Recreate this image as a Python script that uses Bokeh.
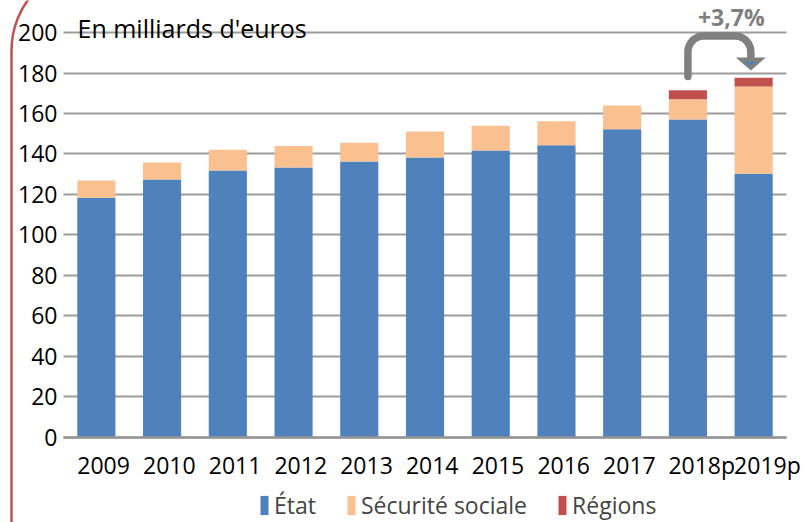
import numpy as np
from bokeh.plotting import figure
from bokeh.models import (ColumnDataSource, FixedTicker, Legend, LegendItem,
                          BoxAnnotation, Label)
from bokeh.embed import file_html
from bokeh.resources import INLINE

# ---- data (milliards d'euros) ----
years = ["2009", "2010", "2011", "2012", "2013", "2014", "2015", "2016",
         "2017", "2018p", "2019p"]
etat = [118.4, 127.4, 131.9, 133.3, 136.3, 138.3, 141.7, 144.3, 152.2, 157.0, 130.2]
securite_sociale = [8.5, 8.4, 10.2, 10.7, 9.2, 12.8, 12.2, 11.9, 11.8, 10.1, 43.1]
regions = [0, 0, 0, 0, 0, 0, 0, 0, 0, 4.4, 4.3]
y_ticks = [0, 20, 40, 60, 80, 100, 120, 140, 160, 180, 200]
series_labels = ["État", "Sécurité sociale", "Régions"]
unit_label = "En milliards d'euros"
growth_label = "+3,7%"

BLUE = "#4F81BD"
PEACH = "#FAC090"
RED = "#C0504D"
GRAY = "#808080"
FONT = "Open Sans"
BAR_W = 0.58
N = len(years)

x = list(range(N))
src = ColumnDataSource(dict(x=x, etat=etat, secu=securite_sociale, regions=regions))

# frame covers the whole canvas; axes are pinned with fixed_location
p = figure(width=805, height=522, output_backend="svg", toolbar_location=None,
           x_range=(-1.4585, N - 0.5 + 0.289), y_range=(-42.0, 215.81),
           min_border_left=0, min_border_right=0, min_border_top=0,
           min_border_bottom=0)
p.outline_line_color = None
p.background_fill_color = "white"
p.border_fill_color = "white"

rs = p.vbar_stack(["etat", "secu", "regions"], x="x", width=BAR_W, source=src,
                  color=[BLUE, PEACH, RED], line_color=None)

# y axis / grid
p.yaxis.fixed_location = -0.5
p.yaxis.ticker = FixedTicker(ticks=y_ticks)
p.yaxis.axis_line_color = None
p.yaxis.major_tick_line_color = None
p.yaxis.minor_tick_line_color = None
p.yaxis.major_tick_out = 0
p.yaxis.major_tick_in = 0
p.yaxis.major_label_text_font = FONT
p.yaxis.major_label_text_font_size = "23px"
p.yaxis.major_label_text_color = "black"
p.yaxis.major_label_standoff = 6
p.ygrid.ticker = FixedTicker(ticks=y_ticks)
p.ygrid.grid_line_color = "#9c9c9c"
p.ygrid.grid_line_width = 2
p.ygrid.cross_bounds = (-0.5, N - 0.5)
p.xgrid.visible = False

# x axis: labels start at the bar's left edge (as in the original)
p.xaxis.fixed_location = 0
p.xaxis.bounds = (-0.5, N - 0.5)
xticks = [i - BAR_W / 2 + 0.1 * len(lab) for i, lab in zip(x, years)]
p.xaxis.ticker = FixedTicker(ticks=xticks)
p.xaxis.major_label_overrides = {t: lab for t, lab in zip(xticks, years)}
p.xaxis.axis_line_color = "#969696"
p.xaxis.axis_line_width = 2.5
p.xaxis.major_tick_line_color = None
p.xaxis.minor_tick_line_color = None
p.xaxis.major_tick_out = 0
p.xaxis.major_tick_in = 0
p.xaxis.major_label_text_font = FONT
p.xaxis.major_label_text_font_size = "23px"
p.xaxis.major_label_text_color = "black"
p.xaxis.major_label_standoff = 12

legend = Legend(items=[LegendItem(label=lab, renderers=[r]) for lab, r in zip(series_labels, rs)],
                orientation="horizontal", location=(259, 1), glyph_width=10,
                glyph_height=24, label_standoff=5, spacing=30, padding=0, margin=0,
                border_line_color=None, background_fill_alpha=0,
                label_text_font=FONT, label_text_font_size="23px")
p.add_layout(legend, "center")

# unit label
p.add_layout(Label(x=-0.287, y=202.1, text=unit_label, text_font=FONT,
                   text_font_size="25px", text_color="black",
                   text_baseline="alphabetic", text_align="left"))

# curved arrow between 2018p and 2019p
i18, i19 = years.index("2018p"), years.index("2019p")
tot18 = etat[i18] + securite_sociale[i18] + regions[i18]
tot19 = etat[i19] + securite_sociale[i19] + regions[i19]
arrow_top = 198.3
x0, x1 = i18, i19 - 0.043
rx, ry = 0.243, 7.9
t1 = np.linspace(np.pi, np.pi / 2, 20)
t2 = np.linspace(np.pi / 2, 0, 20)
xs = [x0] + list(x0 + rx + rx * np.cos(t1)) + list(x1 - rx + rx * np.cos(t2)) + [x1]
ys = ([tot18 + 6.8] + list(arrow_top - ry + ry * np.sin(t1))
      + list(arrow_top - ry + ry * np.sin(t2)) + [tot19 + 10.5])
p.line(xs, ys, line_width=7.5, line_color=GRAY, line_cap="round", line_join="round")
p.patch([x1 - 0.228, x1 + 0.228, x1], [tot19 + 10.1, tot19 + 10.1, tot19 + 3.6],
        color=GRAY, line_color=None)
p.patch([x1 - 0.076, x1 + 0.076, x1], [tot19 + 7.9, tot19 + 7.9, tot19 + 5.7],
        color=BLUE, line_color=None)

p.add_layout(Label(x=9.66, y=207.6, text=growth_label, text_font=FONT,
                   text_font_size="23px", text_font_style="bold", text_color="#7f7f7f",
                   text_baseline="alphabetic", text_align="center"))

# slide border (rounded red frame edge at the left)
p.add_layout(BoxAnnotation(left=11, right=3000, top=-36, bottom=3000,
                           left_units="canvas", right_units="canvas",
                           top_units="canvas", bottom_units="canvas",
                           fill_alpha=0, line_color=RED, line_alpha=1.0,
                           line_width=2.5, border_radius=86))

open("out.html", "w").write(file_html(p, INLINE))
